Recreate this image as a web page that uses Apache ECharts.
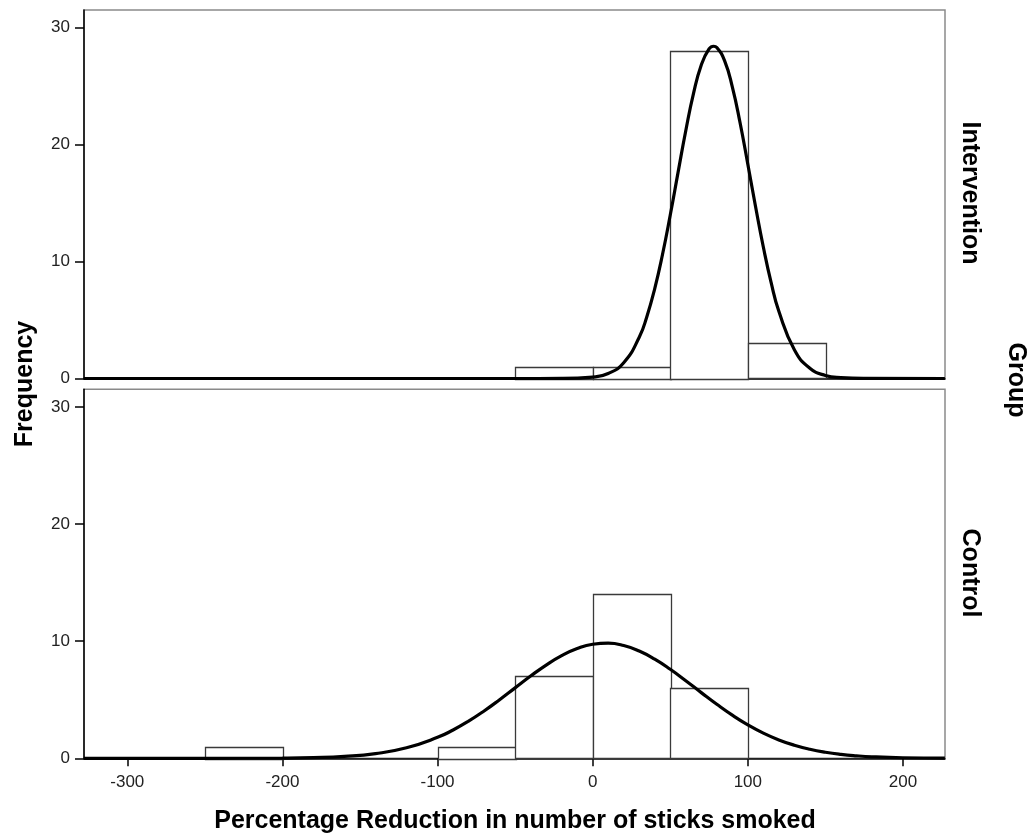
<!DOCTYPE html>
<html>
<head>
<meta charset="utf-8">
<script src="https://cdn.jsdelivr.net/npm/echarts@6/dist/echarts.min.js"></script>
<style>html,body{margin:0;padding:0;background:#fff;}#c{width:1032px;height:836px;}</style>
</head>
<body>
<div id="c"></div>
<script>
// ---- data ----
const xTicks = [-300, -200, -100, 0, 100, 200];
const yTicks = [0, 10, 20, 30];
const binWidth = 50;
const interventionBinStarts = [-50, 0, 50, 100];
const interventionCounts = [1, 1, 28, 3];
const controlBinStarts = [-250, -100, -50, 0, 50];
const controlCounts = [1, 1, 7, 14, 6];
const interventionCurveX = [-328, -50, -20, 0, 10, 20, 30, 35, 40, 45, 50, 55, 60, 65, 70, 75, 78, 80, 85, 90, 95, 100, 105, 110, 115, 120, 130, 140, 150, 160, 175, 227];
const interventionCurveY = [0, 0, 0.005, 0.12, 0.43, 1.35, 3.53, 5.33, 7.69, 10.6, 13.97, 17.6, 21.18, 24.37, 26.8, 28.17, 28.4, 28.3, 27.17, 24.93, 21.86, 18.32, 14.68, 11.24, 8.22, 5.75, 2.46, 0.88, 0.26, 0.07, 0.005, 0];
const controlCurveX = [-328, -250, -200, -180, -160, -140, -120, -100, -90, -80, -70, -60, -50, -40, -30, -20, -10, 0, 10, 20, 30, 40, 50, 60, 70, 80, 90, 100, 110, 120, 130, 140, 150, 160, 170, 180, 200, 227];
const controlCurveY = [0, 0.001, 0.018, 0.056, 0.159, 0.40, 0.897, 1.788, 2.416, 3.171, 4.041, 5.003, 6.013, 7.021, 7.96, 8.767, 9.376, 9.739, 9.824, 9.626, 9.159, 8.464, 7.597, 6.622, 5.606, 4.609, 3.680, 2.855, 2.150, 1.572, 1.117, 0.770, 0.517, 0.336, 0.213, 0.130, 0.045, 0.009];
const groupLabels = ['Intervention', 'Control'];
const xTitle = 'Percentage Reduction in number of sticks smoked';
const yTitle = 'Frequency';
const facetTitle = 'Group';

// ---- chart ----
const FONT = "'Liberation Sans', Arial, sans-serif";
const X_MIN = -327.9, X_MAX = 227.1, Y_MAX = 31.5;

function xAxis(idx, showLabels) {
  return {
    type: 'value', gridIndex: idx, min: X_MIN, max: X_MAX,
    axisLine: { show: true, onZero: false, lineStyle: { color: '#000', width: 1.5 } },
    axisTick: { show: showLabels, length: 8, customValues: xTicks, lineStyle: { color: '#000', width: 1.5 } },
    axisLabel: { show: showLabels, customValues: xTicks, margin: 16, fontSize: 17, color: '#222', fontFamily: FONT },
    splitLine: { show: false }
  };
}
function yAxis(idx) {
  return {
    type: 'value', gridIndex: idx, min: 0, max: Y_MAX,
    axisLine: { show: true, onZero: false, lineStyle: { color: '#000', width: 1.5 } },
    axisTick: { show: true, length: 9, customValues: yTicks, lineStyle: { color: '#000', width: 1.5 } },
    axisLabel: { show: true, customValues: yTicks, margin: 14, fontSize: 17, color: '#222', fontFamily: FONT },
    splitLine: { show: false }
  };
}
function bars(idx, starts, counts) {
  return {
    type: 'custom', xAxisIndex: idx, yAxisIndex: idx, z: 2,
    data: starts.map((s, i) => [s, counts[i]]),
    encode: { x: 0, y: 1 },
    renderItem: function (params, api) {
      const s = api.value(0), c = api.value(1);
      const p0 = api.coord([s, 0]);
      const p1 = api.coord([s + binWidth, c]);
      return {
        type: 'rect',
        shape: { x: Math.round(p0[0]) + 0.5, y: Math.round(p1[1]) + 0.5, width: Math.round(p1[0] - p0[0]), height: Math.round(p0[1] - p1[1]) },
        style: { fill: '#fff', stroke: '#3a3a3a', lineWidth: 1.3 }
      };
    }
  };
}
function curve(idx, xs, ys) {
  return {
    type: 'line', xAxisIndex: idx, yAxisIndex: idx, z: 3,
    data: xs.map((x, i) => [x, ys[i]]),
    smooth: 0.5, showSymbol: false, symbol: 'none',
    lineStyle: { color: '#000', width: 3.2 }
  };
}

const chart = echarts.init(document.getElementById('c'), null, { renderer: 'canvas' });
chart.setOption({
  backgroundColor: '#fff',
  animation: false,
  grid: [
    { left: 84, right: 87, top: 10, height: 368.5, show: true, borderColor: '#8a8a8a', borderWidth: 1.5, backgroundColor: 'transparent' },
    { left: 84, right: 87, top: 389.3, height: 369, show: true, borderColor: '#8a8a8a', borderWidth: 1.5, backgroundColor: 'transparent' }
  ],
  xAxis: [xAxis(0, false), xAxis(1, true)],
  yAxis: [yAxis(0), yAxis(1)],
  series: [
    bars(0, interventionBinStarts, interventionCounts),
    curve(0, interventionCurveX, interventionCurveY),
    bars(1, controlBinStarts, controlCounts),
    curve(1, controlCurveX, controlCurveY)
  ],
  graphic: [
    { type: 'text', x: 515, y: 821, style: { text: xTitle, font: 'bold 25px ' + FONT, fill: '#000', align: 'center', verticalAlign: 'middle' } },
    { type: 'text', x: 25, y: 384, rotation: Math.PI / 2, style: { text: yTitle, font: 'bold 25px ' + FONT, fill: '#000', align: 'center', verticalAlign: 'middle' } },
    { type: 'text', x: 970, y: 193, rotation: -Math.PI / 2, style: { text: groupLabels[0], font: 'bold 25px ' + FONT, fill: '#000', align: 'center', verticalAlign: 'middle' } },
    { type: 'text', x: 970, y: 573, rotation: -Math.PI / 2, style: { text: groupLabels[1], font: 'bold 25px ' + FONT, fill: '#000', align: 'center', verticalAlign: 'middle' } },
    { type: 'text', x: 1016, y: 380, rotation: -Math.PI / 2, style: { text: facetTitle, font: 'bold 25px ' + FONT, fill: '#000', align: 'center', verticalAlign: 'middle' } }
  ]
});
</script>
</body>
</html>
